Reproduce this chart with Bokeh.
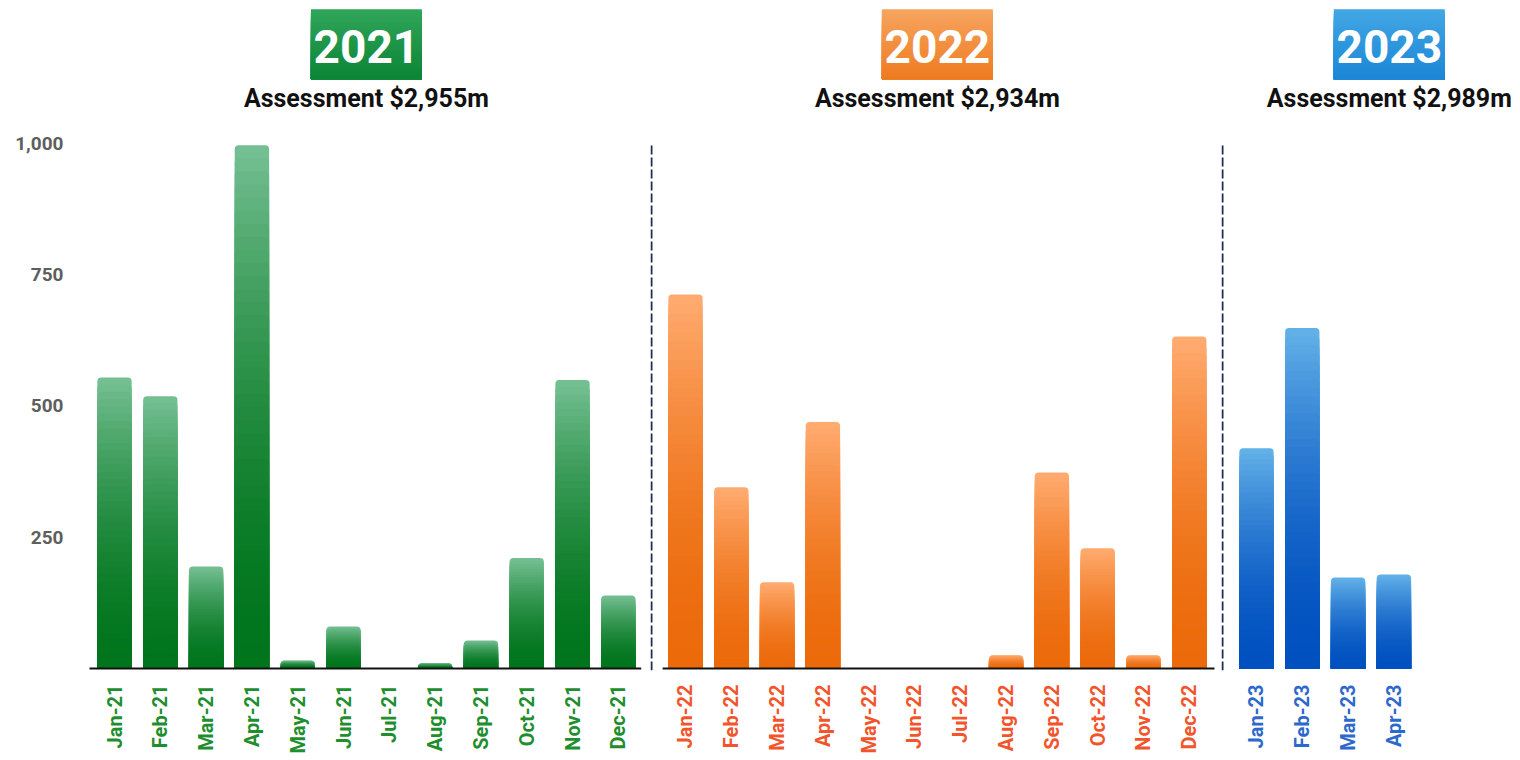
import math
from bokeh.plotting import figure
from bokeh.models import FixedTicker, NumeralTickFormatter, Range1d
from bokeh.core.properties import value
from bokeh.layouts import row
from bokeh.embed import file_html
from bokeh.resources import INLINE

# ---------------- data ----------------
months_2021 = ["Jan-21", "Feb-21", "Mar-21", "Apr-21", "May-21", "Jun-21",
               "Jul-21", "Aug-21", "Sep-21", "Oct-21", "Nov-21", "Dec-21"]
values_2021 = [554, 518, 194, 996, 15, 80, 0, 10, 53, 210, 549, 139]

months_2022 = ["Jan-22", "Feb-22", "Mar-22", "Apr-22", "May-22", "Jun-22",
               "Jul-22", "Aug-22", "Sep-22", "Oct-22", "Nov-22", "Dec-22"]
values_2022 = [712, 345, 164, 469, 0, 0, 0, 25, 373, 229, 25, 632]

months_2023 = ["Jan-23", "Feb-23", "Mar-23", "Apr-23"]
values_2023 = [419, 648, 173, 179]

years = ["2021", "2022", "2023"]
assessments = ["Assessment $2,955m", "Assessment $2,934m", "Assessment $2,989m"]
y_ticks = [250, 500, 750, 1000]

# ---------------- style ----------------
FONT = "Roboto"
PX_PER_UNIT = 45.8          # horizontal pixels per month slot
PX_PER_Y = 0.525            # vertical pixels per value unit
Y_START, Y_END = -4, 1268
FRAME_H = int(round((Y_END - Y_START) * PX_PER_Y))
TOP_BORDER = 2
BOTTOM_BORDER = 84


def hex2rgb(h):
    h = h.lstrip("#")
    return tuple(int(h[i:i + 2], 16) for i in (0, 2, 4))


def mix(c1, c2, t):
    a, b = hex2rgb(c1), hex2rgb(c2)
    return "#%02x%02x%02x" % tuple(int(round(a[i] + (b[i] - a[i]) * t)) for i in range(3))


def gradient_bars(p, values, dark, light, n=40, gamma=1.8):
    xs, tops, colors = [], [], []
    for k in range(n, 0, -1):
        frac = k / n
        col = mix(dark, light, frac ** gamma)
        for i, v in enumerate(values):
            if v <= 0:
                continue
            xs.append(i)
            tops.append(v * frac)
            colors.append(col)
    p.vbar(x=xs, bottom=0, top=tops, width=0.75, fill_color=colors,
           line_color=None, border_radius=(4, 4, 0, 0))


def title_box(p, cx, dark, light, n=30):
    # decorative gradient box behind the year heading (light at top)
    half_w = 55.5 / PX_PER_UNIT
    y_bot, y_top = 1122, 1255
    lefts, rights, bots, tops, cols = [], [], [], [], []
    for k in range(n, 0, -1):
        frac = k / n
        lefts.append(cx - half_w)
        rights.append(cx + half_w)
        bots.append(y_bot)
        tops.append(y_bot + (y_top - y_bot) * frac)
        cols.append(mix(dark, light, frac))
    p.quad(left=lefts, right=rights, bottom=bots, top=tops, fill_color=cols,
           line_color=None)


def make_panel(months, values, x_start, frame_w, left_border, dark, light,
               label_color, year, box_dark, box_light, assessment, title_x,
               with_y_axis, baseline_span, divider):
    x_end = x_start + frame_w / PX_PER_UNIT
    p = figure(frame_width=frame_w, frame_height=FRAME_H,
               x_range=Range1d(x_start, x_end), y_range=Range1d(Y_START, Y_END),
               output_backend="svg", toolbar_location=None,
               y_axis_location="left" if with_y_axis else None,
               min_border_top=TOP_BORDER, min_border_bottom=BOTTOM_BORDER,
               min_border_left=left_border, min_border_right=0)
    p.outline_line_color = None
    p.background_fill_color = "white"
    p.border_fill_color = "white"
    p.xgrid.grid_line_color = None
    p.ygrid.grid_line_color = None

    gradient_bars(p, values, dark, light)

    if baseline_span is not None:
        p.segment(x0=[baseline_span[0]], x1=[baseline_span[1]], y0=[0], y1=[0],
                  line_color="#111111", line_width=2)

    if divider:
        dx = x_start + 1.0 / PX_PER_UNIT
        p.segment(x0=[dx], x1=[dx], y0=[Y_START], y1=[1000],
                  line_color="#1f2d4d", line_width=2, line_dash="9 3")

    title_box(p, title_x, box_dark, box_light)
    p.text(x=[title_x], y=[1152], text=[year], text_font=value(FONT),
           text_font_size="46px", text_font_style="bold", text_color="white",
           text_align="center", text_baseline="bottom")
    p.text(x=[title_x], y=[1057], text=[assessment], text_font=value(FONT),
           text_font_size="25px", text_font_style="bold", text_color="#111111",
           text_align="center", text_baseline="bottom")

    xa = p.xaxis[0]
    xa.ticker = FixedTicker(ticks=list(range(len(months))))
    xa.major_label_overrides = {i: m for i, m in enumerate(months)}
    xa.major_label_orientation = math.pi / 2
    xa.axis_line_color = None
    xa.major_tick_line_color = None
    xa.minor_tick_line_color = None
    xa.major_tick_out = 0
    xa.major_label_standoff = 14
    xa.major_label_text_font = FONT
    xa.major_label_text_font_size = "20px"
    xa.major_label_text_font_style = "bold"
    xa.major_label_text_color = label_color

    if with_y_axis:
        ya = p.yaxis[0]
        ya.ticker = FixedTicker(ticks=y_ticks)
        ya.formatter = NumeralTickFormatter(format="0,0")
        ya.axis_line_color = None
        ya.major_tick_line_color = None
        ya.minor_tick_line_color = None
        ya.major_tick_out = 0
        ya.major_label_standoff = 26
        ya.major_label_text_font = FONT
        ya.major_label_text_font_size = "19px"
        ya.major_label_text_font_style = "bold"
        ya.major_label_text_color = "#5e5e5e"
    return p


p1 = make_panel(months_2021, values_2021, -0.546, 561, 89, "#00751c", "#74bf92",
                "#1e8e2e", years[0], "#0b8436", "#2fa55a", assessments[0], 5.5,
                True, (-0.6, 11.5), False)
p2 = make_panel(months_2022, values_2022, -0.764, 571, 0, "#ec6a0a", "#ffab70",
                "#f2552c", years[1], "#ee7a20", "#f6a45e", assessments[1], 5.5,
                False, (-0.5, 11.55), True)
p3 = make_panel(months_2023, values_2023, -0.764, 290, 0, "#0050c0", "#62b0e8",
                "#2d68cc", years[2], "#1a86d6", "#42a6e4", assessments[2], 2.9,
                False, None, True)

layout = row(p1, p2, p3)
open("out.html", "w").write(file_html(layout, INLINE))
